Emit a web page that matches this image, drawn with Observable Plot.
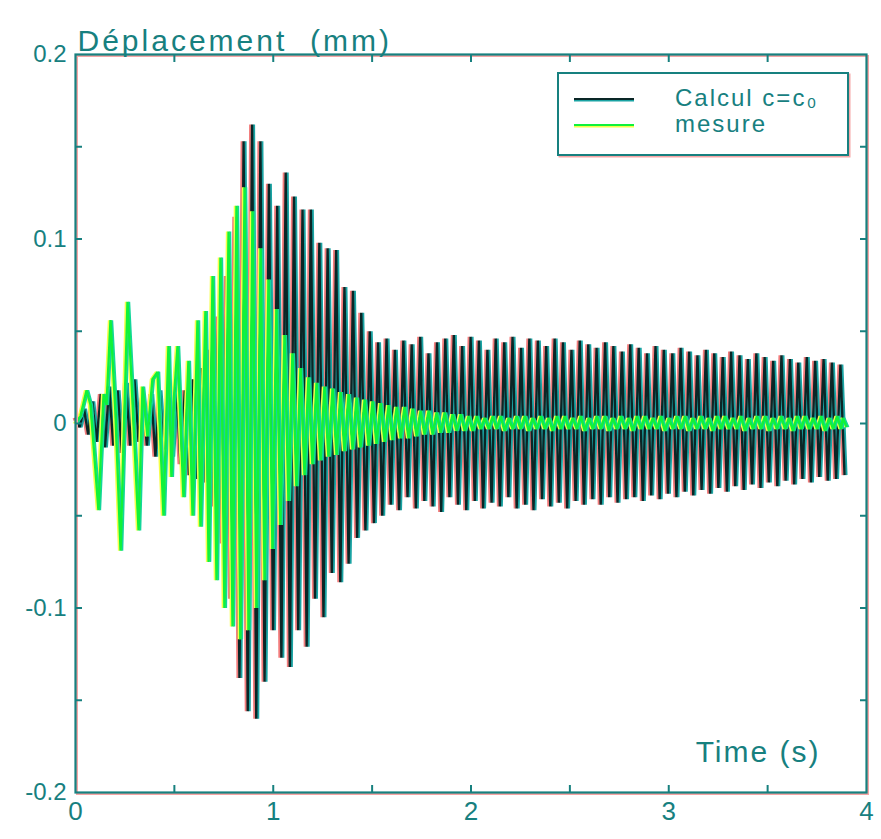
<!DOCTYPE html>
<html>
<head>
<meta charset="utf-8">
<script src="https://cdn.jsdelivr.net/npm/d3@7"></script>
<script src="https://cdn.jsdelivr.net/npm/@observablehq/plot@0.6"></script>
<style>
  html, body { margin: 0; padding: 0; background: #fff; }
  #wrap { position: relative; width: 881px; height: 839px; overflow: hidden; }
  #legend { position: absolute; left: 557px; top: 72px; width: 288px; height: 80px;
    border: 2px solid #17807f; box-shadow: 1.5px 1.5px 0 #f6a5a5; background: #fff;
    font-family: "Liberation Sans", Arial, sans-serif; font-size: 24px; color: #17807f; letter-spacing: 2px; }
  .lg-row { position: absolute; left: 0; height: 26px; width: 100%; }
  .lg-line { position: absolute; left: 15px; width: 60px; top: 12px; height: 2px; }
  .lg-text { position: absolute; left: 116px; top: -2px; white-space: nowrap; line-height: 28px; }
</style>
</head>
<body>
<div id="wrap"><div id="legend"></div></div>
<script>
// ---------- axes / text ----------
const xDomain = [0, 4];
const yDomain = [-0.2, 0.2];
const xLabelTicks = [0, 1, 2, 3, 4];
const xMinorTicks = [0.5, 1, 1.5, 2, 2.5, 3, 3.5];
const yLabelTicks = [-0.2, -0.1, 0, 0.1, 0.2];
const yTickLabels = ["-0.2", "-0.1", "0", "0.1", "0.2"];
const yMinorTicks = [-0.15, -0.1, -0.05, 0, 0.05, 0.1, 0.15];
const yTitle = "Déplacement  (mm)";
const xTitle = "Time (s)";
const seriesNames = ["Calcul c=c\u2080", "mesure"];

// ---------- series "Calcul c=c0": one row per oscillation [time, crest, trough] ----------
const calcHalfPeriod = 0.021;
const calcCycles = [
  [0.000, 0.003, -0.002], [0.043, 0.008, -0.006], [0.085, 0.012, -0.010], [0.128, 0.016, -0.013],
  [0.170, 0.020, -0.012], [0.213, 0.018, -0.016], [0.255, 0.022, -0.012], [0.298, 0.024, -0.010],
  [0.340, 0.014, -0.012], [0.383, 0.016, -0.018], [0.425, 0.018, -0.014], [0.468, 0.014, -0.018],
  [0.510, 0.020, -0.022], [0.553, 0.018, -0.028], [0.595, 0.024, -0.030], [0.638, 0.030, -0.032],
  [0.680, 0.040, -0.045], [0.723, 0.058, -0.065], [0.765, 0.080, -0.095], [0.808, 0.112, -0.138],
  [0.850, 0.153, -0.156], [0.893, 0.162, -0.160], [0.935, 0.153, -0.140], [0.978, 0.130, -0.112],
  [1.020, 0.118, -0.127], [1.063, 0.136, -0.132], [1.105, 0.123, -0.112], [1.148, 0.116, -0.121],
  [1.190, 0.116, -0.095], [1.233, 0.098, -0.105], [1.275, 0.095, -0.081], [1.318, 0.094, -0.086],
  [1.360, 0.074, -0.076], [1.403, 0.072, -0.062], [1.445, 0.060, -0.058], [1.488, 0.050, -0.054],
  [1.530, 0.044, -0.050], [1.573, 0.046, -0.044], [1.615, 0.040, -0.047], [1.658, 0.045, -0.040],
  [1.700, 0.043, -0.046], [1.743, 0.047, -0.042], [1.785, 0.038, -0.045], [1.828, 0.044, -0.048],
  [1.870, 0.046, -0.040], [1.913, 0.048, -0.044], [1.955, 0.042, -0.047], [1.998, 0.047, -0.042],
  [2.040, 0.045, -0.046], [2.083, 0.040, -0.043], [2.125, 0.046, -0.045], [2.168, 0.044, -0.040],
  [2.210, 0.047, -0.046], [2.253, 0.041, -0.044], [2.295, 0.046, -0.047], [2.338, 0.045, -0.041],
  [2.380, 0.042, -0.045], [2.423, 0.046, -0.043], [2.465, 0.044, -0.046], [2.508, 0.040, -0.042],
  [2.550, 0.045, -0.044], [2.593, 0.043, -0.041], [2.635, 0.041, -0.044], [2.678, 0.044, -0.040],
  [2.720, 0.042, -0.043], [2.763, 0.039, -0.041], [2.805, 0.043, -0.040], [2.848, 0.041, -0.042],
  [2.890, 0.038, -0.039], [2.933, 0.042, -0.041], [2.975, 0.040, -0.038], [3.018, 0.038, -0.040],
  [3.060, 0.041, -0.037], [3.103, 0.039, -0.039], [3.145, 0.037, -0.036], [3.188, 0.040, -0.038],
  [3.230, 0.038, -0.035], [3.273, 0.036, -0.037], [3.315, 0.039, -0.034], [3.358, 0.037, -0.036],
  [3.400, 0.035, -0.033], [3.443, 0.038, -0.035], [3.485, 0.036, -0.032], [3.528, 0.034, -0.034],
  [3.570, 0.037, -0.031], [3.613, 0.035, -0.033], [3.655, 0.033, -0.030], [3.698, 0.036, -0.032],
  [3.740, 0.034, -0.029], [3.783, 0.035, -0.031], [3.825, 0.033, -0.030], [3.868, 0.032, -0.028]
];

// ---------- series "mesure": irregular start, read point by point ----------
const mesureStartT = [0.000, 0.025, 0.056, 0.076, 0.116, 0.142, 0.157, 0.177, 0.202, 0.228,
  0.263, 0.283, 0.319, 0.339, 0.364, 0.389, 0.415, 0.445, 0.470, 0.485,
  0.496, 0.516, 0.546, 0.571, 0.592, 0.617, 0.632, 0.657, 0.673];
const mesureStartV = [0.000, 0.004, 0.018, 0.010, -0.047, 0.016, 0.010, 0.056, 0.006, -0.069,
  0.066, 0.024, -0.058, 0.020, -0.007, 0.024, 0.028, -0.050, 0.042, -0.029,
  0.011, 0.042, -0.040, 0.034, -0.050, 0.056, -0.056, 0.061, -0.075];

// then regular oscillation: [time, crest, trough]
const mesureHalfPeriod = 0.020;
const mesureCycles = [
  [0.693, 0.080, -0.085], [0.733, 0.090, -0.100], [0.774, 0.104, -0.110], [0.814, 0.118, -0.117],
  [0.855, 0.128, -0.112], [0.895, 0.115, -0.100], [0.936, 0.095, -0.085], [0.976, 0.078, -0.068],
  [1.016, 0.062, -0.055], [1.057, 0.048, -0.042], [1.097, 0.038, -0.034], [1.138, 0.030, -0.028],
  [1.178, 0.025, -0.022], [1.219, 0.022, -0.020], [1.259, 0.020, -0.018], [1.300, 0.019, -0.017],
  [1.340, 0.017, -0.015], [1.381, 0.016, -0.014], [1.421, 0.014, -0.013], [1.462, 0.013, -0.012],
  [1.502, 0.012, -0.011], [1.543, 0.011, -0.010], [1.583, 0.010, -0.009], [1.624, 0.009, -0.008],
  [1.664, 0.009, -0.008], [1.705, 0.008, -0.007], [1.745, 0.007, -0.006], [1.786, 0.007, -0.006],
  [1.826, 0.006, -0.005], [1.867, 0.006, -0.005], [1.907, 0.005, -0.004], [1.948, 0.005, -0.004],
  [1.988, 0.004, -0.004], [2.029, 0.004, -0.003], [2.069, 0.003, -0.003], [2.110, 0.004, -0.003],
  [2.150, 0.004, -0.004], [2.191, 0.003, -0.003], [2.231, 0.004, -0.003], [2.272, 0.004, -0.004],
  [2.312, 0.003, -0.003], [2.353, 0.004, -0.003], [2.393, 0.003, -0.004], [2.434, 0.004, -0.003],
  [2.474, 0.004, -0.003], [2.515, 0.003, -0.003], [2.555, 0.004, -0.004], [2.596, 0.003, -0.003],
  [2.636, 0.004, -0.003], [2.677, 0.004, -0.004], [2.717, 0.003, -0.003], [2.758, 0.004, -0.003],
  [2.798, 0.003, -0.004], [2.839, 0.004, -0.003], [2.879, 0.004, -0.003], [2.920, 0.003, -0.003],
  [2.960, 0.004, -0.004], [3.001, 0.003, -0.003], [3.041, 0.004, -0.003], [3.082, 0.004, -0.004],
  [3.122, 0.003, -0.003], [3.163, 0.004, -0.003], [3.203, 0.003, -0.004], [3.244, 0.004, -0.003],
  [3.284, 0.004, -0.003], [3.325, 0.003, -0.003], [3.365, 0.004, -0.004], [3.406, 0.003, -0.003],
  [3.446, 0.004, -0.003], [3.487, 0.004, -0.004], [3.527, 0.003, -0.003], [3.568, 0.004, -0.003],
  [3.608, 0.003, -0.004], [3.649, 0.004, -0.003], [3.689, 0.004, -0.003], [3.730, 0.003, -0.003],
  [3.770, 0.004, -0.004], [3.811, 0.003, -0.003], [3.851, 0.004, -0.003], [3.880, 0.003, -0.002]
];

// ---------- colours ----------
const teal = "#17807f";
const calcCore = "#0a2626", calcLeft = "#f27c7c", calcRight = "#1aa3a3";
const mesCore = "#10f23a", mesLeft = "#f4ff4a", mesRight = "#14d69a";

// ---------- build point tables ----------
const cyclesToPoints = (cycles, half) =>
  cycles.flatMap(([t, hi, lo]) => [{t, v: hi}, {t: t + half, v: lo}]);
const calcPts = cyclesToPoints(calcCycles, calcHalfPeriod);
const mesurePts = mesureStartT.map((t, i) => ({t, v: mesureStartV[i]}))
  .concat(cyclesToPoints(mesureCycles, mesureHalfPeriod));

const chart = Plot.plot({
  width: 881,
  height: 839,
  marginLeft: 75,
  marginRight: 15,
  marginTop: 54,
  marginBottom: 47,
  x: {domain: xDomain},
  y: {domain: yDomain},
  style: {fontFamily: "'Liberation Sans', Arial, sans-serif", fontSize: "24px", color: teal, background: "white", overflow: "visible"},
  marks: [
    // series
    Plot.line(calcPts, {x: "t", y: "v", stroke: calcLeft, strokeWidth: 2.2, dx: -1.9, strokeLinejoin: "miter", strokeLinecap: "butt"}),
    Plot.line(calcPts, {x: "t", y: "v", stroke: calcRight, strokeWidth: 2.2, dx: 1.9, strokeLinejoin: "miter", strokeLinecap: "butt"}),
    Plot.line(calcPts, {x: "t", y: "v", stroke: calcCore, strokeWidth: 2.4, strokeLinejoin: "miter", strokeLinecap: "butt"}),
    Plot.line(mesurePts, {x: "t", y: "v", stroke: mesLeft, strokeWidth: 2, dx: -1.7, strokeLinejoin: "miter", strokeLinecap: "butt"}),
    Plot.line(mesurePts, {x: "t", y: "v", stroke: mesRight, strokeWidth: 2, dx: 1.7, strokeLinejoin: "miter", strokeLinecap: "butt"}),
    Plot.line(mesurePts, {x: "t", y: "v", stroke: mesCore, strokeWidth: 2.4, strokeLinejoin: "miter", strokeLinecap: "butt"}),
    // frame with pink ghost
    Plot.frame({stroke: "#f6a5a5", strokeWidth: 2, dx: 1.5, dy: 1.5}),
    Plot.frame({stroke: teal, strokeWidth: 2.2}),
    // inward ticks
    Plot.axisX(xMinorTicks, {anchor: "bottom", tickSize: -7, tickFormat: () => "", label: null, strokeWidth: 2}),
    Plot.axisX(xMinorTicks, {anchor: "top", tickSize: -7, tickFormat: () => "", label: null, strokeWidth: 2}),
    Plot.axisY(yMinorTicks, {anchor: "left", tickSize: -7, tickFormat: () => "", label: null, strokeWidth: 2}),
    Plot.axisY(yMinorTicks, {anchor: "right", tickSize: -7, tickFormat: () => "", label: null, strokeWidth: 2}),
    // tick labels
    Plot.axisX(xLabelTicks, {anchor: "bottom", tickSize: 0, tickPadding: 9, label: null, fontSize: 26, tickFormat: d => String(d)}),
    Plot.axisY(yLabelTicks, {anchor: "left", tickSize: 0, tickPadding: 9, label: null, fontSize: 24,
      tickFormat: d => yTickLabels[yLabelTicks.indexOf(d)]}),
    // titles
    Plot.text([yTitle], {text: d => d, frameAnchor: "top-left", dx: 2, dy: -25, textAnchor: "start", fontSize: 30, fill: teal}),
    Plot.text([xTitle], {text: d => d, frameAnchor: "bottom-right", dx: -46, dy: -31, textAnchor: "end", fontSize: 30, fill: teal})
  ]
});

d3.select(chart).selectAll("text")
  .filter(function () { return this.textContent === yTitle; })
  .style("letter-spacing", "3px");
d3.select(chart).selectAll("text")
  .filter(function () { return this.textContent === xTitle; })
  .style("letter-spacing", "2px");

document.getElementById("wrap").prepend(chart);

// ---------- legend ----------
const legend = document.getElementById("legend");
const legendStyles = [
  {color: calcCore, shadow: calcRight},
  {color: mesCore, shadow: mesLeft}
];
seriesNames.forEach((name, i) => {
  const row = document.createElement("div");
  row.className = "lg-row";
  row.style.top = (12 + i * 26) + "px";
  const line = document.createElement("div");
  line.className = "lg-line";
  line.style.background = legendStyles[i].color;
  line.style.boxShadow = "0 1.5px 0 " + legendStyles[i].shadow;
  const txt = document.createElement("div");
  txt.className = "lg-text";
  txt.textContent = name;
  row.appendChild(line);
  row.appendChild(txt);
  legend.appendChild(row);
});
</script>
</body>
</html>
